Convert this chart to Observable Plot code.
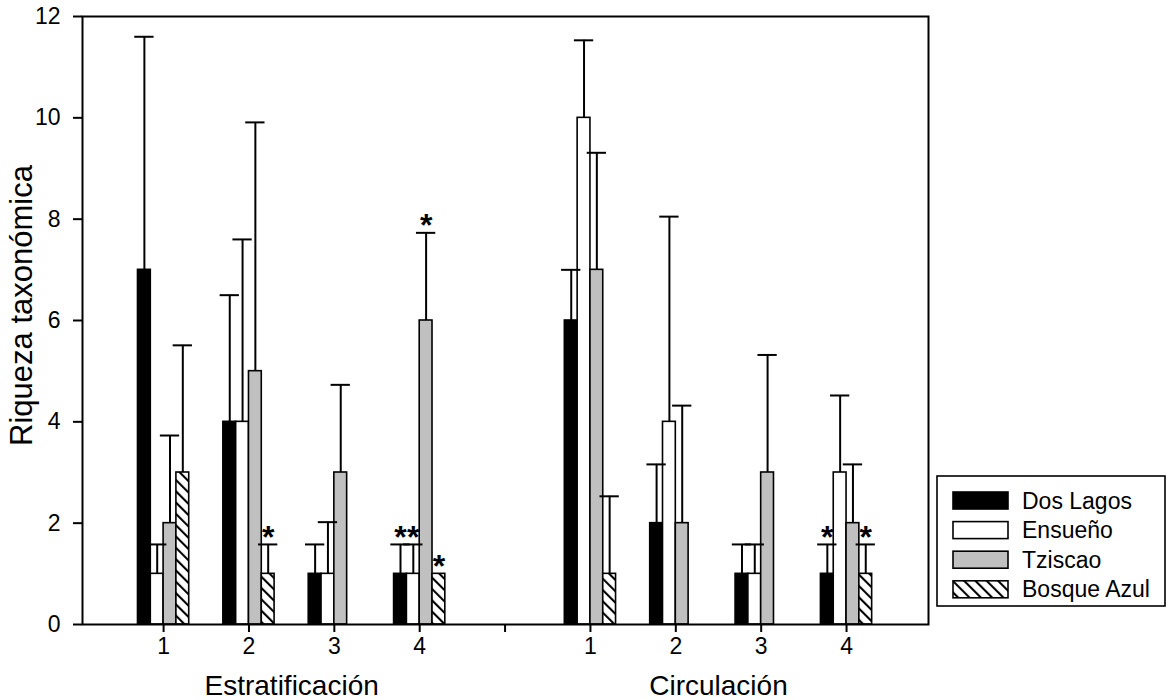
<!DOCTYPE html>
<html><head><meta charset="utf-8">
<script src="https://cdn.jsdelivr.net/npm/d3@7"></script>
<script src="https://cdn.jsdelivr.net/npm/@observablehq/plot@0.6"></script>
<style>body{margin:0;background:#fff;} svg{font-family:"Liberation Sans", Arial, sans-serif;}</style>
</head><body><div id="chart"></div>
<script>
const seriesNames = ["Dos Lagos", "Ensueño", "Tziscao", "Bosque Azul"];
const groupNames = ["Estratificación", "Circulación"];
const groupCenters = [2.5, 7.5];
const xPositions = [1, 2, 3, 4, 6, 7, 8, 9];
const xTicks = [1, 2, 3, 4, 5, 6, 7, 8, 9];
const xTickLabels = ["1", "2", "3", "4", "", "1", "2", "3", "4"];
const yTicks = [0, 2, 4, 6, 8, 10, 12];

const dosLagos      = [7, 4, 1, 1, 6, 2, 1, 1];
const dosLagosTop   = [11.6, 6.5, 1.58, 1.58, 7.0, 3.16, 1.58, 1.58];
const ensueno       = [1, 4, 1, 1, 10, 4, 1, 3];
const ensuenoTop    = [1.58, 7.6, 2.02, 1.58, 11.53, 8.05, 1.58, 4.52];
const tziscao       = [2, 5, 3, 6, 7, 2, 3, 2];
const tziscaoTop    = [3.73, 9.91, 4.73, 7.73, 9.31, 4.32, 5.32, 3.16];
const bosqueAzul    = [3, 1, 0, 1, 1, 0, 0, 1];
const bosqueAzulTop = [5.51, 1.58, null, null, 2.53, null, null, 1.58];

const dosLagosSig   = [0, 0, 0, 1, 0, 0, 0, 1];
const ensuenoSig    = [0, 0, 0, 1, 0, 0, 0, 0];
const tziscaoSig    = [0, 0, 0, 1, 0, 0, 0, 0];
const bosqueAzulSig = [0, 1, 0, 1, 0, 0, 0, 1];

const values = [dosLagos, ensueno, tziscao, bosqueAzul];
const tops = [dosLagosTop, ensuenoTop, tziscaoTop, bosqueAzulTop];
const sigs = [dosLagosSig, ensuenoSig, tziscaoSig, bosqueAzulSig];
const fills = ["black", "white", "#c0c0c0", "url(#hatch)"];

const barW = 0.15;
const capHalf = 0.113;
const rows = [];
seriesNames.forEach((s, si) => xPositions.forEach((p, i) => {
  const c = p + (si - 1.5) * barW;
  rows.push({series: s, si, c, x1: c - barW / 2, x2: c + barW / 2,
    value: values[si][i], top: tops[si][i], sig: sigs[si][i]});
}));

const barMarks = seriesNames.map((s, si) =>
  Plot.rectY(rows.filter(d => d.si === si && d.value > 0), {
    x1: "x1", x2: "x2", y1: 0, y2: "value",
    fill: fills[si], stroke: "black", strokeWidth: 1.6
  }));
const withErr = rows.filter(d => d.top != null);

const chart = Plot.plot({
  width: 1170, height: 700,
  marginLeft: 82, marginRight: 242, marginTop: 16, marginBottom: 76,
  style: {fontFamily: "'Liberation Sans', Arial, sans-serif", background: "white", overflow: "visible", color: "black"},
  x: {domain: [0.05, 9.96]},
  y: {domain: [0, 12]},
  marks: [
    ...barMarks,
    Plot.ruleX(withErr, {x: "c", y1: "value", y2: "top", stroke: "black", strokeWidth: 2}),
    Plot.ruleY(withErr, {y: "top", x1: d => d.c - capHalf, x2: d => d.c + capHalf, stroke: "black", strokeWidth: 2}),
    Plot.text(rows.filter(d => d.sig), {
      x: "c", y: d => d.top ?? d.value, text: () => "*",
      fontSize: 32, fontWeight: "bold", lineAnchor: "middle", dy: -7, fill: "black"
    }),
    Plot.axisY({ticks: yTicks, tickSize: 9, tickPadding: 13, fontSize: 23, label: null, strokeWidth: 2}),
    Plot.axisX({ticks: xTicks, tickFormat: d => xTickLabels[xTicks.indexOf(d)], tickSize: 8, tickPadding: 5, fontSize: 23, label: null, strokeWidth: 2}),
    Plot.text(groupNames.map((g, i) => ({g, x: groupCenters[i]})), {
      x: "x", text: "g", frameAnchor: "bottom", lineAnchor: "top", dy: 51, fontSize: 28, fill: "black"
    }),
    Plot.text(["Riqueza taxonómica"], {frameAnchor: "left", textAnchor: "middle", rotate: -90, dx: -60, dy: -15, fontSize: 31, fill: "black"}),
    Plot.frame({stroke: "black", strokeWidth: 2})
  ]
});

const svg = d3.select(chart);
const defs = svg.insert("defs", ":first-child");
const pat = defs.append("pattern").attr("id", "hatch").attr("patternUnits", "userSpaceOnUse")
  .attr("width", 8).attr("height", 8).attr("patternTransform", "rotate(-45)");
pat.append("rect").attr("width", 8).attr("height", 8).attr("fill", "white");
pat.append("line").attr("x1", 1).attr("y1", 0).attr("x2", 1).attr("y2", 8).attr("stroke", "black").attr("stroke-width", 2.2);

const lg = svg.append("g").attr("transform", "translate(937,476)");
lg.append("rect").attr("width", 228).attr("height", 130).attr("fill", "white").attr("stroke", "black").attr("stroke-width", 1.6);
seriesNames.forEach((s, i) => {
  const y = 16 + i * 29.6;
  lg.append("rect").attr("x", 16).attr("y", y).attr("width", 55).attr("height", 17)
    .attr("fill", fills[i]).attr("stroke", "black").attr("stroke-width", 1.6);
  lg.append("text").attr("x", 85).attr("y", y + 8.5).attr("dy", "0.35em")
    .attr("text-anchor", "start").attr("font-size", 23).attr("fill", "black").text(s);
});

document.getElementById("chart").append(chart);
</script>
</body></html>
